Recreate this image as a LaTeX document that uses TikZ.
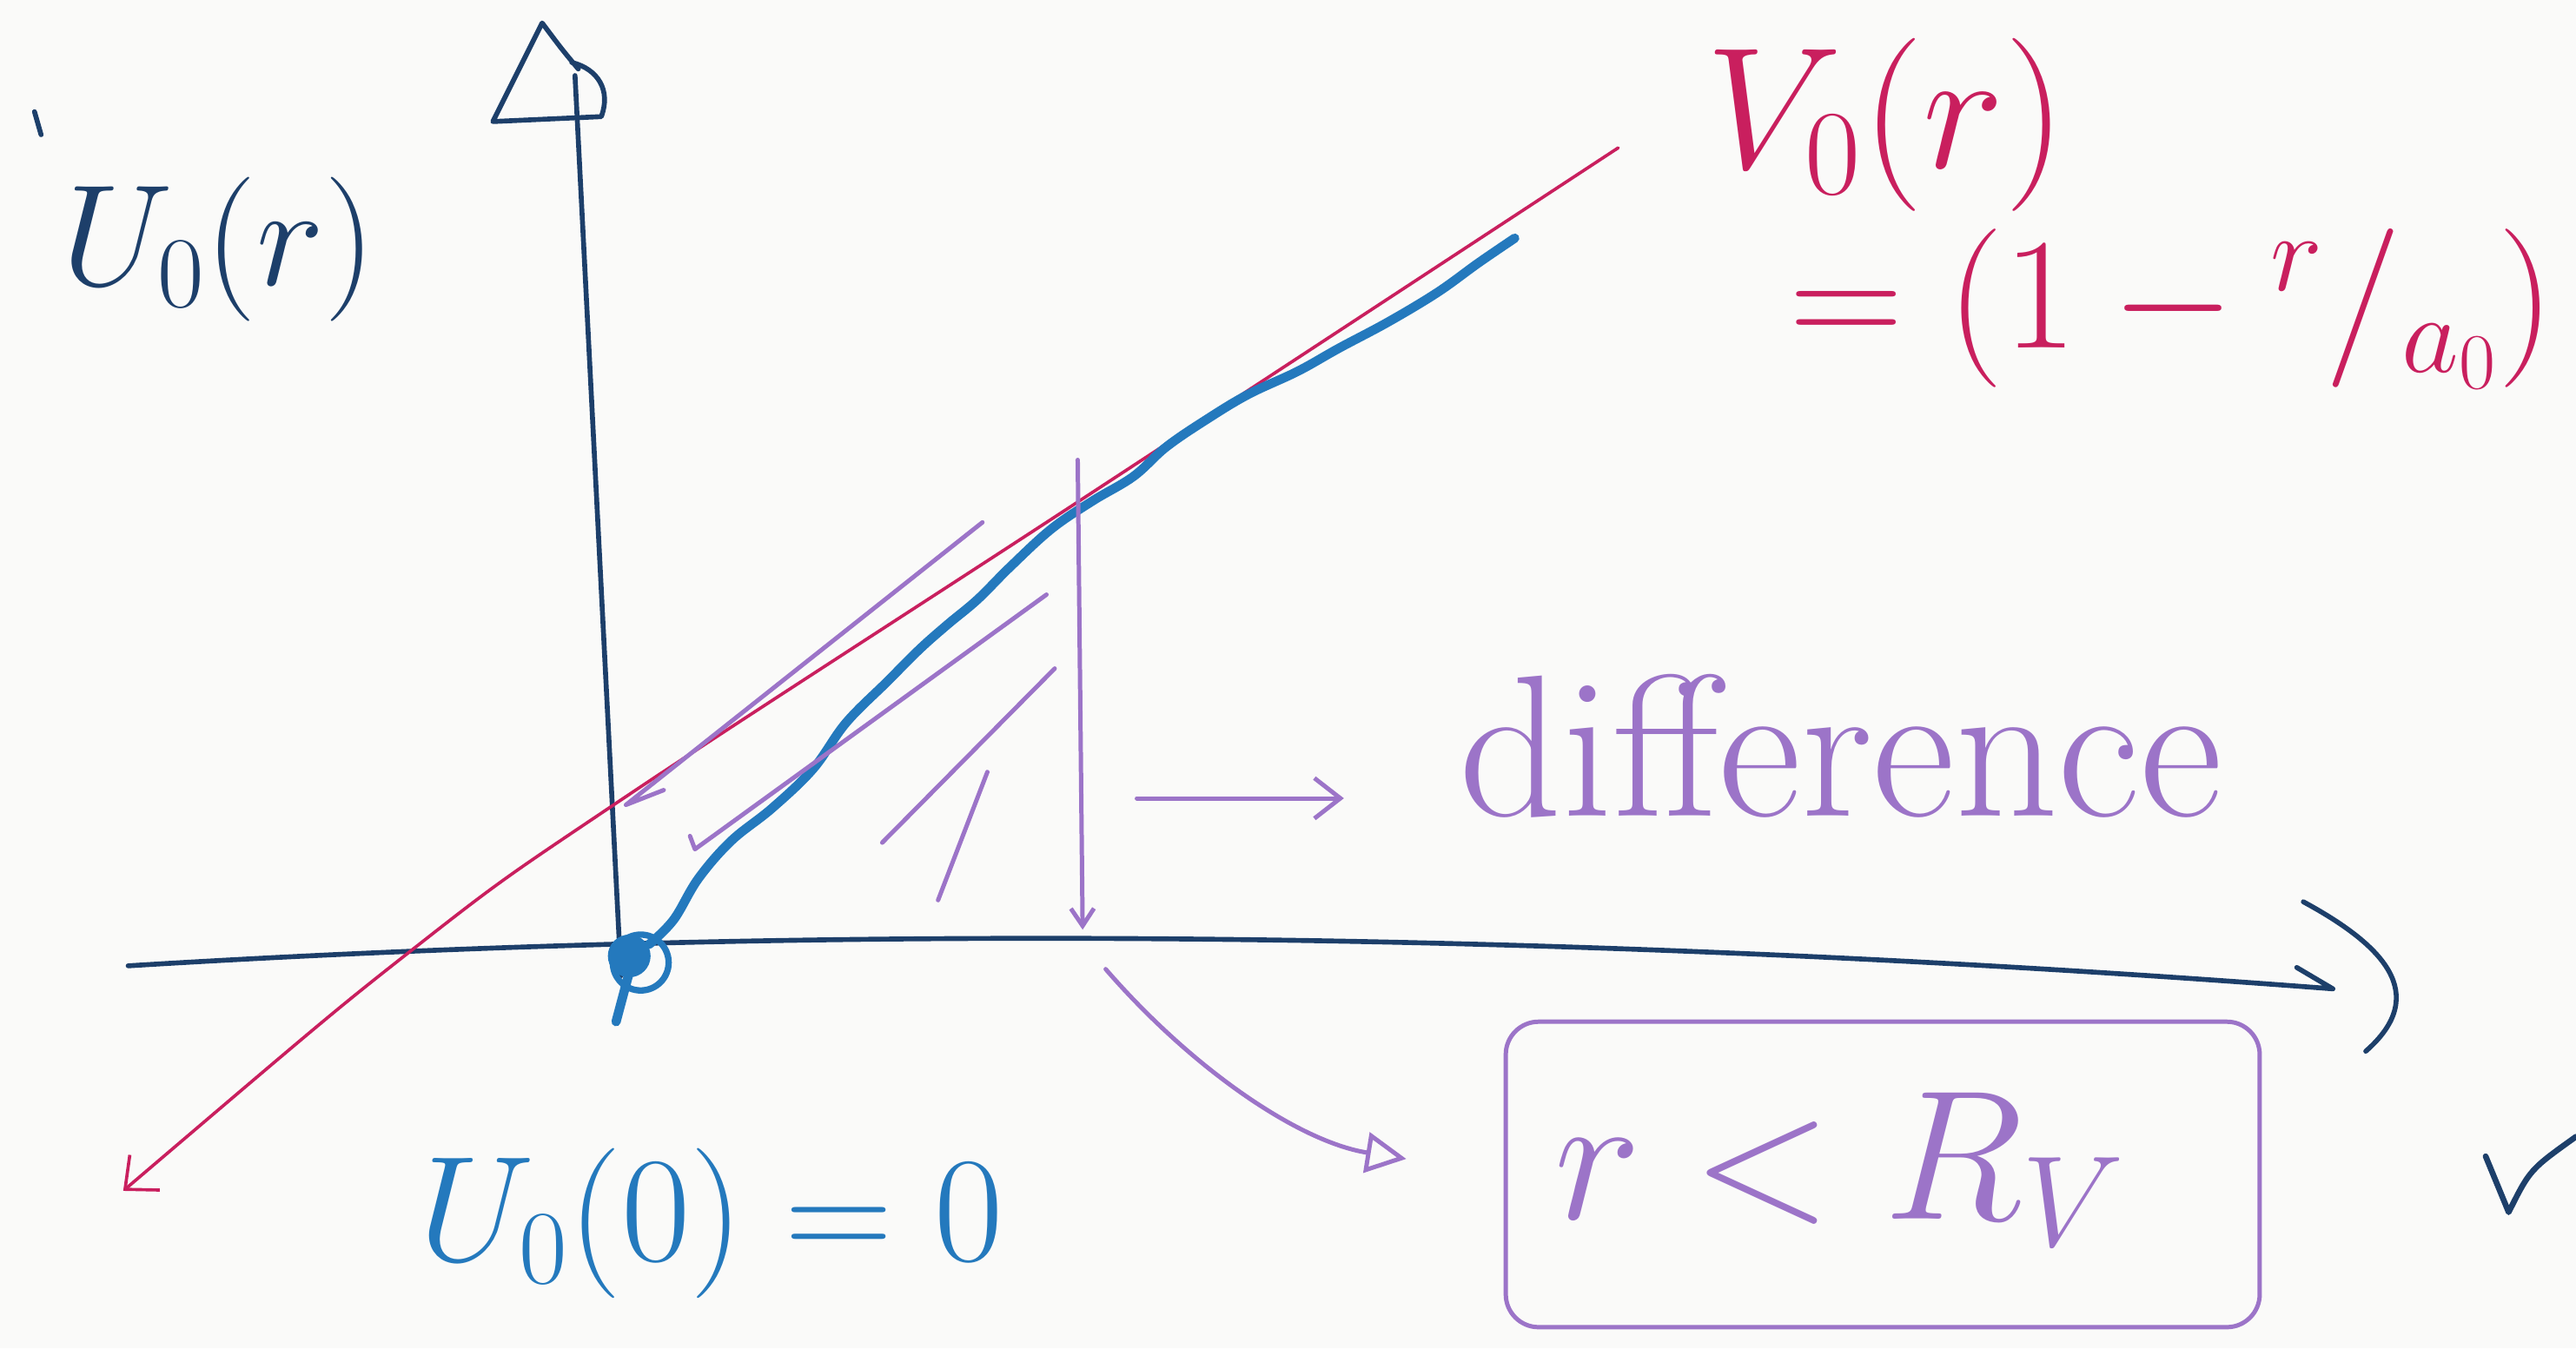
\RequirePackage{fix-cm}
\documentclass[tikz,border=0pt]{standalone}
\usetikzlibrary{arrows.meta, positioning, calc}
\definecolor{Navy}{HTML}{1D3F6A}
\definecolor{Crimson}{HTML}{C91F5E}
\definecolor{Sky}{HTML}{2479BD}
\definecolor{Lilac}{HTML}{9C74C8}
\definecolor{Paper}{HTML}{FAFAF9}

\begin{document}
\begin{tikzpicture}[
            x=0.02cm, y=-0.02cm,
            axis/.style={draw=Navy, line width=1.7pt, line cap=round, line join=round},
            redline/.style={draw=Crimson, line width=1.1pt, line cap=round},
            bluecurve/.style={draw=Sky, line width=3.2pt, line cap=round, line join=round},
            hatch/.style={draw=Lilac, line width=1.5pt, line cap=round, line join=round},
            tag/.style={inner sep=0pt},
            hand/.style={font=\fontsize{#1}{#1}\selectfont}
        ]
            \useasboundingbox (0,0) rectangle (1568,821);
            \fill[Paper] (0,0) rectangle (1568,821);

            % Axes
            \coordinate (ytop) at (350,46);
            \draw[axis] (378,594) -- (ytop);
            \draw[axis] (352,42) .. controls (342,30) .. (330,14) -- (300,74) -- (366,71) .. controls (372,55) and (364,42) .. (348,38);
            \draw[axis] (78,588) .. controls (500,562) and (950,566) .. (1420,602) -- (1398,589);
            \draw[axis] (1402,549) .. controls (1450,575) and (1480,605) .. (1440,640);

            % Potentials
            \draw[redline, {Straight Barb[length=9pt,width=16pt]}-] plot[smooth, tension=0.6] coordinates {(75,725) (255,575) (378,487) (660,303) (985,90)};
            \draw[bluecurve] plot[smooth, tension=0.6] coordinates {(395,575) (410,560) (425,535) (445,512) (470,492) (495,468) (515,440) (540,415) (560,395) (577,380) (595,365) (615,345) (640,322) (665,305) (690,290) (710,272) (735,255) (760,240) (790,226) (815,212) (845,196) (875,178) (900,160) (922,145)};
            \fill[Sky] (383,582) circle[radius=13];
            \draw[bluecurve, line width=2.2pt] (390,586) circle[radius=17];
            \draw[bluecurve] (383,592) -- (375,622);

            % Hatching and marks
            \draw[hatch] (598,318) -- (381,490) -- (404,481);
            \draw[hatch] (637,362) -- (423,517) -- (420,509);
            \draw[hatch] (642,407) -- (537,513);
            \draw[hatch] (601,470) -- (571,548);
            \coordinate (rtop) at (656,280);
            \coordinate (rfoot) at (659,566);
            \draw[hatch, -{Straight Barb[length=6pt,width=8pt]}] (rtop) -- (rfoot);

            % Labels
            \node[tag, text=Navy, hand=50] (ylabel) at (133,152) {$U_0(r)$};
            \draw[axis] (21,68) -- (25,82);
            \node[tag, text=Crimson, hand=60] (vlabel) at (1148,76) {$V_0(r)$};
            \node[tag, text=Crimson, hand=55] (vformula) at (1322,188) {$=\bigl(1-{}^{r}/_{a_0}\bigr)$};
            \node[tag, text=Sky, hand=52] (zerolabel) at (433,745) {$U_0(0)=0$};
            \node[tag, text=Lilac, hand=70, anchor=base west] (difftext) at (888,497) {difference};
            \node[draw=Lilac, line width=1.5pt, rounded corners=0.4cm, minimum width=9.18cm, minimum height=3.72cm] (condbox) at (1146,715) {};
            \node[tag, text=Lilac, hand=64] (condtext) at (1120,712) {$r<R_V$};

            % Arrows
            \coordinate (diffstart) at (692,486);
            \coordinate (curvestart) at (673,590);
            \draw[hatch, -{Straight Barb[length=9pt,width=14pt]}, shorten >=1.4cm] (diffstart) -- (diffstart -| difftext.west);
            \draw[hatch, -{Triangle[open, length=14pt, width=14pt]}, shorten >=1.2cm] (curvestart) .. controls (725,650) and (790,695) .. (condbox.west);
            \draw[axis, line width=2pt] (1513,704) -- (1527,738) .. controls (1540,712) .. (1568,692);
        \end{tikzpicture}
\end{document}
